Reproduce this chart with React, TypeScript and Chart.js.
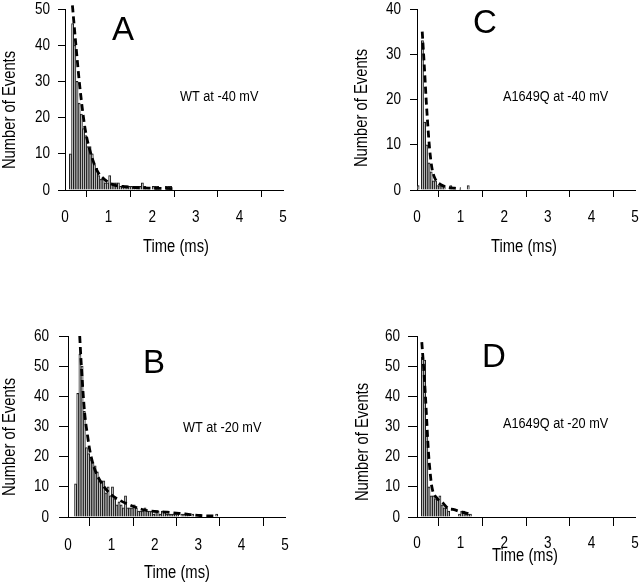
import React, { useEffect, useRef } from 'react';
import { Chart, registerables } from 'chart.js';

Chart.register(...registerables);

const FONT = '"Liberation Sans", Arial, Helvetica, sans-serif';
const CONDENSE = 0.82; // reference typeface is a narrow sans
const BIN_WIDTH = 0.05; // ms

const xTickValues = [0, 1, 2, 3, 4, 5];
const xTitle = 'Time (ms)';
const yTitle = 'Number of Events';

// Panel A: WT at -40 mV
const aBinStarts = [0.1, 0.15, 0.2, 0.25, 0.3, 0.35, 0.4, 0.45, 0.5, 0.55, 0.6, 0.65, 0.7, 0.75, 0.8, 0.85, 0.9, 0.95, 1.0, 1.05, 1.1, 1.15, 1.2, 1.25, 1.3, 1.35, 1.4, 1.45, 1.5, 1.55, 1.6, 1.65, 1.7, 1.75, 1.8, 1.85, 1.9, 1.95, 2.0, 2.05, 2.1, 2.15, 2.2, 2.25, 2.3, 2.35, 2.4];
const aCounts = [10, 46, 40, 30, 24, 21, 17, 15, 12, 12, 10, 7, 6, 4, 3, 3, 2, 2, 4, 2, 2, 2, 2, 1, 1, 1, 1, 1, 1, 1, 1, 1, 1, 2, 1, 0, 0, 0, 1, 1, 1, 0, 0, 0, 1, 1, 1];
const aFitTimes = [0.17, 0.25, 0.34, 0.46, 0.57, 0.73, 0.92, 1.1, 1.4, 1.95, 2.5];
const aFitValues = [51, 40, 28.5, 17, 11, 5.5, 2.8, 1.5, 0.9, 0.5, 0.4];

// Panel C: A1649Q at -40 mV
const cBinStarts = [0.0, 0.05, 0.1, 0.15, 0.2, 0.25, 0.3, 0.35, 0.4, 0.45, 0.5, 0.55, 0.6, 0.65, 0.7, 0.75, 0.8, 0.85, 0.9, 0.95, 1.0, 1.05, 1.1, 1.15];
const cCounts = [1, 0, 33, 15, 10, 6, 4, 2, 2, 1, 1, 1, 1, 0, 0, 1, 0, 0, 0, 0, 0, 0, 0, 1];
const cFitTimes = [0.12, 0.17, 0.21, 0.25, 0.29, 0.34, 0.41, 0.56, 0.87, 1.0];
const cFitValues = [35, 27, 20, 14, 9, 5, 2.6, 1.1, 0.4, 0.3];

// Panel B: WT at -20 mV
const bBinStarts = [0.15, 0.2, 0.25, 0.3, 0.35, 0.4, 0.45, 0.5, 0.55, 0.6, 0.65, 0.7, 0.75, 0.8, 0.85, 0.9, 0.95, 1.0, 1.05, 1.1, 1.15, 1.2, 1.25, 1.3, 1.35, 1.4, 1.45, 1.5, 1.55, 1.6, 1.65, 1.7, 1.75, 1.8, 1.85, 1.9, 1.95, 2.0, 2.05, 2.1, 2.15, 2.2, 2.25, 2.3, 2.35, 2.4, 2.45, 2.5, 2.55, 2.6, 2.65, 2.7, 2.75, 2.8, 2.85, 2.9, 2.95, 3.0, 3.05, 3.1, 3.15, 3.2, 3.25, 3.3, 3.35, 3.4];
const bCounts = [11, 41, 54, 50, 35, 23, 21, 19, 18, 17, 15, 12, 12, 12, 8, 10, 7, 10, 6, 4, 5, 4, 3, 7, 3, 3, 3, 4, 3, 2, 2, 2, 3, 2, 2, 2, 1, 2, 2, 1, 2, 2, 1, 1, 1, 1, 1, 1, 0, 1, 1, 1, 1, 0, 1, 0, 0, 0, 0, 0, 0, 0, 0, 0, 0, 1];
const bFitTimes = [0.27, 0.3, 0.38, 0.45, 0.51, 0.6, 0.74, 0.97, 1.2, 1.36, 1.74, 2.28, 2.7, 3.05, 3.43];
const bFitValues = [60, 52, 35, 27, 21.5, 16.5, 12, 7.7, 5.5, 4.4, 2.4, 1.6, 1, 0.5, 0.3];

// Panel D: A1649Q at -20 mV
const dBinStarts = [0.1, 0.15, 0.2, 0.25, 0.3, 0.35, 0.4, 0.45, 0.5, 0.55, 0.6, 0.65, 0.7, 0.75, 0.8, 0.85, 0.9, 0.95, 1.0, 1.05, 1.1, 1.15, 1.2];
const dCounts = [53, 52, 27, 10, 7, 7, 6, 6, 7, 4, 3, 3, 2, 0, 0, 0, 0, 1, 2, 2, 1, 1, 1];
const dFitTimes = [0.11, 0.15, 0.19, 0.23, 0.26, 0.3, 0.34, 0.46, 0.57, 0.72, 0.83, 1.03, 1.18];
const dFitValues = [58, 50, 41, 30, 22, 15, 10, 6.2, 5, 2.8, 2.5, 1.6, 1.2];

type PanelCfg = {
  left: number; top: number; width: number; height: number;
  padTop: number; padRight: number; yWidth: number; xHeight: number;
  yMax: number; tickLen: number; xLabelY: number; yLabelGap: number;
  binStarts: number[]; counts: number[]; fitTimes: number[]; fitValues: number[];
  letter: string; letterX: number; letterY: number;
  note: string; noteX: number; noteY: number;
  yTitleX: number; yTitleY: number; xTitleX: number; xTitleY: number;
};

const panels: PanelCfg[] = [
  {
    left: 0, top: 0, width: 300, height: 260, padTop: 9, padRight: 17, yWidth: 65, xHeight: 70,
    yMax: 50, tickLen: 7, xLabelY: 217, yLabelGap: 15,
    binStarts: aBinStarts, counts: aCounts, fitTimes: aFitTimes, fitValues: aFitValues,
    letter: 'A', letterX: 112, letterY: 40, note: 'WT at -40 mV', noteX: 180, noteY: 97,
    yTitleX: 10, yTitleY: 110, xTitleX: 176, xTitleY: 247,
  },
  {
    left: 353, top: 0, width: 287, height: 260, padTop: 9, padRight: 5, yWidth: 64, xHeight: 70,
    yMax: 40, tickLen: 7, xLabelY: 217, yLabelGap: 16,
    binStarts: cBinStarts, counts: cCounts, fitTimes: cFitTimes, fitValues: cFitValues,
    letter: 'C', letterX: 473, letterY: 33, note: 'A1649Q at -40 mV', noteX: 503, noteY: 97,
    yTitleX: 362, yTitleY: 108, xTitleX: 524, xTitleY: 247,
  },
  {
    left: 0, top: 260, width: 300, height: 323, padTop: 76, padRight: 15, yWidth: 68, xHeight: 66,
    yMax: 60, tickLen: 9, xLabelY: 545, yLabelGap: 19,
    binStarts: bBinStarts, counts: bCounts, fitTimes: bFitTimes, fitValues: bFitValues,
    letter: 'B', letterX: 143, letterY: 373, note: 'WT at -20 mV', noteX: 183, noteY: 428,
    yTitleX: 10, yTitleY: 437, xTitleX: 177, xTitleY: 573,
  },
  {
    left: 353, top: 260, width: 287, height: 310, padTop: 76, padRight: 5, yWidth: 64, xHeight: 53,
    yMax: 60, tickLen: 9, xLabelY: 543, yLabelGap: 17,
    binStarts: dBinStarts, counts: dCounts, fitTimes: dFitTimes, fitValues: dFitValues,
    letter: 'D', letterX: 482, letterY: 367, note: 'A1649Q at -20 mV', noteX: 503, noteY: 424,
    yTitleX: 363, yTitleY: 442, xTitleX: 525, xTitleY: 556,
  },
];

function narrowText(ctx: CanvasRenderingContext2D, text: string, x: number, y: number, rotate = 0) {
  ctx.save();
  ctx.translate(x, y);
  if (rotate) ctx.rotate(rotate);
  ctx.scale(CONDENSE, 1);
  ctx.fillText(text, 0, 0);
  ctx.restore();
}

function Panel({ cfg }: { cfg: PanelCfg }) {
  const ref = useRef<HTMLCanvasElement | null>(null);
  useEffect(() => {
    if (!ref.current) return;
    const textPlugin = {
      id: 'panelText',
      afterDraw(chart: any) {
        const ctx: CanvasRenderingContext2D = chart.ctx;
        const ox = cfg.left;
        const oy = cfg.top;
        ctx.save();
        ctx.fillStyle = '#000';
        ctx.textAlign = 'left';
        ctx.textBaseline = 'alphabetic';
        ctx.font = `33px ${FONT}`;
        ctx.fillText(cfg.letter, cfg.letterX - ox, cfg.letterY - oy);
        ctx.textBaseline = 'middle';
        ctx.font = `15.5px ${FONT}`;
        narrowText(ctx, cfg.note, cfg.noteX - ox, cfg.noteY - oy);
        ctx.textAlign = 'center';
        ctx.font = `18px ${FONT}`;
        narrowText(ctx, xTitle, cfg.xTitleX - ox, cfg.xTitleY - oy);
        narrowText(ctx, yTitle, cfg.yTitleX - ox, cfg.yTitleY - oy, -Math.PI / 2);
        ctx.font = `16.5px ${FONT}`;
        const xs = chart.scales.x;
        const ys = chart.scales.y;
        ctx.textAlign = 'center';
        xs.ticks.forEach((t: any) => {
          narrowText(ctx, String(t.value), xs.getPixelForValue(t.value), cfg.xLabelY - oy);
        });
        ctx.textAlign = 'right';
        ys.ticks.forEach((t: any) => {
          narrowText(ctx, String(t.value), chart.chartArea.left - cfg.yLabelGap, ys.getPixelForValue(t.value));
        });
        ctx.restore();
      },
    };
    const chart = new Chart(ref.current, {
      type: 'bar',
      data: {
        datasets: [
          {
            type: 'line',
            data: cfg.fitTimes.map((t, i) => ({ x: t, y: cfg.fitValues[i] })),
            borderColor: '#000',
            borderWidth: 2.8,
            borderDash: [7, 4],
            pointRadius: 0,
            fill: false,
            cubicInterpolationMode: 'monotone',
            clip: false,
            order: 0,
          } as any,
          {
            type: 'bar',
            data: cfg.binStarts.map((s, i) => ({ x: s + BIN_WIDTH / 2, y: cfg.counts[i] })),
            backgroundColor: '#c4c4c4',
            borderColor: '#1a1a1a',
            borderWidth: 1,
            barPercentage: 1,
            categoryPercentage: 1,
            order: 1,
          } as any,
        ],
      },
      options: {
        animation: false,
        responsive: false,
        maintainAspectRatio: false,
        layout: { padding: { top: cfg.padTop, right: cfg.padRight, left: 0, bottom: 0 } },
        plugins: { legend: { display: false }, tooltip: { enabled: false } },
        scales: {
          x: {
            type: 'linear',
            min: 0,
            max: 5,
            offset: false,
            afterBuildTicks: (scale: any) => {
              scale.ticks = xTickValues.map((v) => ({ value: v }));
            },
            ticks: { display: false, autoSkip: false },
            grid: { display: true, drawOnChartArea: false, drawTicks: true, tickLength: cfg.tickLen, color: '#000', lineWidth: 1 },
            border: { display: true, color: '#000', width: 1 },
            title: { display: false },
            afterFit: (scale: any) => { scale.height = cfg.xHeight; },
          },
          y: {
            type: 'linear',
            min: 0,
            max: cfg.yMax,
            ticks: { display: false, stepSize: 10 },
            grid: { display: true, drawOnChartArea: false, drawTicks: true, tickLength: cfg.tickLen, color: '#000', lineWidth: 1 },
            border: { display: true, color: '#000', width: 1 },
            title: { display: false },
            afterFit: (scale: any) => { scale.width = cfg.yWidth; },
          },
        },
      } as any,
      plugins: [textPlugin],
    });
    return () => chart.destroy();
  }, [cfg]);
  return (
    <canvas
      ref={ref}
      width={cfg.width}
      height={cfg.height}
      style={{ position: 'absolute', left: cfg.left, top: cfg.top, width: cfg.width, height: cfg.height }}
    />
  );
}

export default function App() {
  return (
    <div style={{ position: 'fixed', left: 0, top: 0, width: 640, height: 583, background: '#fff', overflow: 'hidden' }}>
      {panels.map((p) => (
        <Panel key={p.letter} cfg={p} />
      ))}
    </div>
  );
}
